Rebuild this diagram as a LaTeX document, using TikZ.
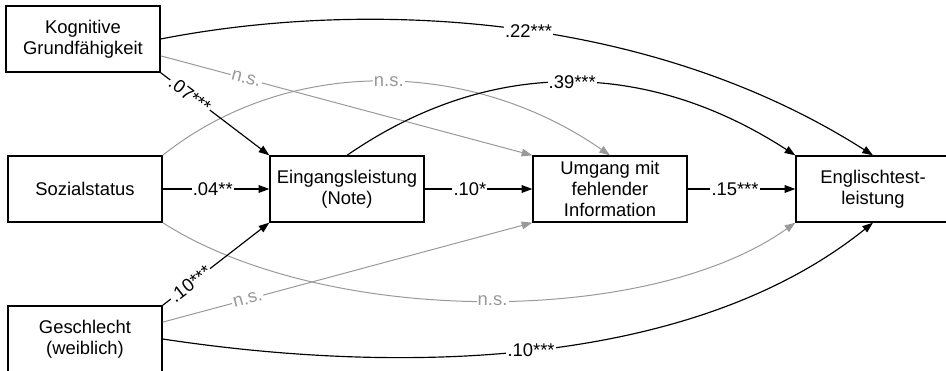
\documentclass[tikz,border=0pt]{standalone}
\usepackage{fontspec}
\setmainfont{Liberation Sans}
\usetikzlibrary{arrows.meta,positioning,calc}

\begin{document}
\begin{tikzpicture}[x=0.3mm, y=-0.3mm,
    box/.style={draw, line width=0.4mm, minimum width=46.2mm, minimum height=19.8mm,
        align=center, inner sep=0pt, font=\fontsize{15.7}{17.9}\selectfont},
    effect/.style={line width=0.35mm, -{Triangle[length=3.2mm, width=2.3mm]}},
    ns/.style={effect, black!40, line width=0.3mm},
    coef/.style={fill=white, inner sep=1pt, font=\fontsize{15.7}{17.9}\selectfont}]
    \useasboundingbox (0,0) rectangle (946,371);

    % Variables
    \node[box] (kog) at (83,39) {Kognitive\\Grundfähigkeit};
    \node[box] (soz) at (85,189) {Sozialstatus};
    \node[box] (ges) at (85,339) {Geschlecht\\(weiblich)};
    \node[box] (ein) at (347,189) {Eingangsleistung\\(Note)};
    \node[box] (umg) at (610,189) {Umgang mit\\fehlender\\Information};
    \node[box] (eng) at (873,189) {Englischtest-\\leistung};

    % Non-significant paths
    \draw[ns] ($(kog.east)!0.5!(kog.south east)$) -- (umg.north west)
        node[coef, pos=0.23, sloped] {n.s.};
    \draw[ns] (soz.north east) .. controls (286,57) and (468,57) .. (umg.north)
        node[coef, pos=0.52] {n.s.};
    \draw[ns] (soz.south east) .. controls (326,327) and (649,327) .. (eng.south west)
        node[coef, pos=0.51] {n.s.};
    \draw[ns] ($(ges.east)!0.5!(ges.north east)$) -- (umg.south west)
        node[coef, pos=0.23, sloped] {n.s.};

    % Significant paths
    \draw[effect] (kog.east) .. controls (360,0) and (645,10) .. (eng.north)
        node[coef, pos=0.53] {.22***};
    \draw[effect] (kog.south east) -- (ein.north west)
        node[coef, pos=0.27, sloped] {.07***};
    \draw[effect] (soz.east) -- (ein.west) node[coef, pos=0.47] {.04**};
    \draw[effect] (ges.north east) -- (ein.south west)
        node[coef, pos=0.26, sloped] {.10***};
    \draw[effect] (ges.east) .. controls (400,375) and (691,369) .. (eng.south)
        node[coef, pos=0.49] {.10***};
    \draw[effect] (ein.east) -- (umg.west) node[coef, pos=0.42] {.10*};
    \draw[effect] (ein.north) .. controls (488,58) and (645,58) .. (eng.north west)
        node[coef, pos=0.51] {.39***};
    \draw[effect] (umg.east) -- (eng.west) node[coef, pos=0.44] {.15***};
\end{tikzpicture}
\end{document}
